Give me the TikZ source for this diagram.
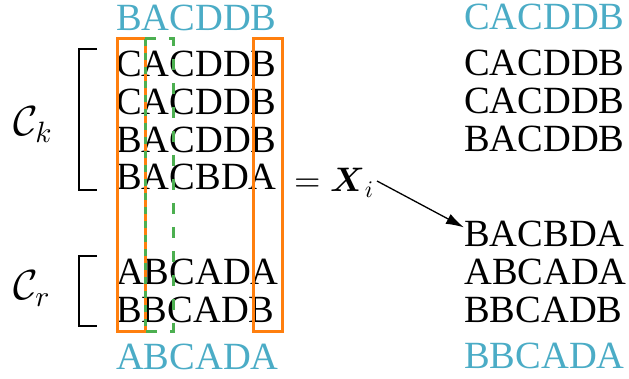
\documentclass[tikz,border=0pt]{standalone}
\usepackage{amsmath}
\usepackage[no-math]{fontspec}
\setmainfont{Liberation Serif}
\DeclareFontFamily{OML}{xcmm}{\skewchar\font127 }
\DeclareFontShape{OML}{xcmm}{m}{it}{<->cmmi10}{}
\DeclareFontShape{OML}{xcmm}{b}{it}{<->cmmib10}{}
\DeclareFontFamily{OMS}{xcmsy}{\skewchar\font48 }
\DeclareFontShape{OMS}{xcmsy}{m}{n}{<->cmsy10}{}
\DeclareFontShape{OMS}{xcmsy}{b}{n}{<->cmbsy10}{}
\DeclareFontFamily{OT1}{xcmr}{\hyphenchar\font45 }
\DeclareFontShape{OT1}{xcmr}{m}{n}{<->cmr10}{}
\DeclareFontShape{OT1}{xcmr}{bx}{n}{<->cmbx10}{}
\SetSymbolFont{operators}{normal}{OT1}{xcmr}{m}{n}
\SetSymbolFont{operators}{bold}{OT1}{xcmr}{bx}{n}
\SetSymbolFont{letters}{normal}{OML}{xcmm}{m}{it}
\SetSymbolFont{letters}{bold}{OML}{xcmm}{b}{it}
\SetSymbolFont{symbols}{normal}{OMS}{xcmsy}{m}{n}
\SetSymbolFont{symbols}{bold}{OMS}{xcmsy}{b}{n}
\usetikzlibrary{arrows.meta}
\definecolor{ornge}{RGB}{255,127,14}
\definecolor{grn}{RGB}{76,175,80}
\definecolor{sky}{RGB}{75,172,198}
\begin{document}
\begin{tikzpicture}[x=1pt,y=-1pt,
  seq/.style={anchor=base west,inner sep=0pt,font=\fontsize{38.5}{38.5}\selectfont},
  refseq/.style={seq,text=sky},
  brk/.style={line width=1.5pt},
  obox/.style={draw=ornge,line width=3pt},
  gbox/.style={draw=grn,line width=3pt,dash pattern=on 11pt off 13pt},
  gedge/.style={draw=grn,line width=3pt,dash pattern=on 7pt off 7pt},
  lbl/.style={anchor=base west,inner sep=0pt,font=\fontsize{42}{42}\selectfont},
  arr/.style={-{Latex[length=18pt,width=11pt]},line width=1.3pt}]
\useasboundingbox (0,0) rectangle (629,379);
% left column
\node[refseq] (lt) at (116,30.5) {BACDDB};
\node[seq] (l1) at (116,77) {CACDDB};
\node[seq] (l2) at (116,114.7) {CACDDB};
\node[seq] (l3) at (116,152.4) {BACDDB};
\node[seq] (l4) at (116,190) {BACBDA};
\node[seq] (l5) at (116,285) {ABCADA};
\node[seq] (l6) at (116,322) {BBCADB};
\node[refseq] (lb) at (116,369) {ABCADA};
% right column
\node[refseq] (rt) at (464,30) {CACDDB};
\node[seq] (r1) at (464,76) {CACDDB};
\node[seq] (r2) at (464,114) {CACDDB};
\node[seq] (r3) at (464,152) {BACDDB};
\node[seq] (r5) at (464,247) {BACBDA};
\node[seq] (r6) at (464,284) {ABCADA};
\node[seq] (r7) at (464,322) {BBCADB};
\node[refseq] (rb) at (464,368) {BBCADA};
% boxes
\draw[obox] (117,39) rectangle (145,331);
\draw[obox] (253,39) rectangle (282,331);
\draw[gbox] (145,39) -- (173,39) -- (173,331) -- (145,331);
\draw[gedge] (145,39) -- (145,331);
% brackets
\draw[brk] (97,49) -- (79,49) -- (79,190) -- (97,190);
\draw[brk] (97,256) -- (79,256) -- (79,326) -- (97,326);
% labels
\node[lbl] (ck) at (13,136) {$\mathcal{C}_k$};
\node[lbl] (cr) at (13,300) {$\mathcal{C}_r$};
\node[anchor=base west,inner sep=0pt,font=\fontsize{34}{34}\selectfont] (xi) at (294,192) {$=\boldsymbol{X}_i$};
\coordinate (as) at (377,181);
\draw[arr] (as) -- ([yshift=7pt]r5.west);
\end{tikzpicture}
\end{document}
